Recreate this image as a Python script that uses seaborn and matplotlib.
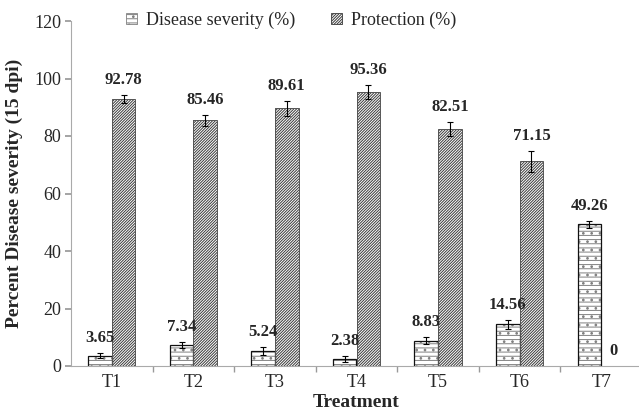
import numpy as np
import pandas as pd
import matplotlib
matplotlib.use("Agg")
import matplotlib.pyplot as plt
import seaborn as sns

treatments = ["T1", "T2", "T3", "T4", "T5", "T6", "T7"]
disease_severity = [3.65, 7.34, 5.24, 2.38, 8.83, 14.56, 49.26]
protection = [92.78, 85.46, 89.61, 95.36, 82.51, 71.15, 0]
disease_err = [1.0, 1.0, 1.5, 1.1, 1.3, 1.6, 1.1]
protection_err = [1.4, 2.0, 2.5, 2.4, 2.4, 3.6, 0]
series_names = ["Disease severity (%)", "Protection (%)"]

df = pd.DataFrame({
    "Treatment": treatments * 2,
    "value": disease_severity + protection,
    "err": disease_err + protection_err,
    "series": [series_names[0]] * 7 + [series_names[1]] * 7,
})

sns.set_theme(style="white")
plt.rcParams["font.family"] = ["Liberation Serif", "DejaVu Serif"]
plt.rcParams["hatch.linewidth"] = 0.7

fig = plt.figure(figsize=(6.39, 4.13), dpi=100)
ax = fig.add_axes([71 / 639, 47 / 413, 571 / 639, 345 / 413])

sns.barplot(data=df, x="Treatment", y="value", hue="series", width=0.58,
            palette=["white", "white"], errorbar=None, ax=ax, legend=True)

# hatch colour follows edge colour, so the outline is drawn on top separately
styles = {
    series_names[0]: dict(hatch="----..", hatchcol="#808080", edge="#111111", lw=0.9),
    series_names[1]: dict(hatch="////////////", hatchcol="#3a3a3a", edge="#555555", lw=0.7),
}
for cont, name in zip(ax.containers, series_names):
    st = styles[name]
    sub = df[df["series"] == name]
    for bar, val, err in zip(cont.patches, sub["value"], sub["err"]):
        bar.set_hatch(st["hatch"])
        bar.set_edgecolor(st["hatchcol"])
        bar.set_linewidth(0)
        ax.add_patch(plt.Rectangle(bar.get_xy(), bar.get_width(), bar.get_height(),
                                   fill=False, edgecolor=st["edge"], lw=st["lw"],
                                   zorder=bar.get_zorder() + 0.1))
        xc = bar.get_x() + bar.get_width() / 2
        if err > 0:
            ax.errorbar(xc, val, yerr=err, color="black", lw=0.8, capsize=2.5,
                        capthick=0.8, zorder=4)
        ax.annotate(f"{val:g}" if val == 0 else f"{val:.2f}", (xc, val + err),
                    xytext=(0, 5), textcoords="offset points", ha="center",
                    va="bottom", fontsize=12, fontweight="bold")

ax.set_ylim(0, 120)
ax.set_xlim(-0.5, 6.5)
ax.set_yticks(range(0, 121, 20))
ax.set_xticks(np.arange(7))
ax.set_xticklabels(treatments)
ax.tick_params(axis="y", labelsize=13, length=4, left=True, color="#999999", pad=3)
ax.tick_params(axis="x", labelsize=13, length=0, pad=6)
ax.set_xticks(np.arange(0.5, 6.5, 1), minor=True)
ax.tick_params(axis="x", which="minor", bottom=True, length=4, color="#999999")

for s in ["top", "right"]:
    ax.spines[s].set_visible(False)
ax.spines["left"].set_color("#aaaaaa")
ax.spines["bottom"].set_color("#aaaaaa")
ax.spines["left"].set_linewidth(0.8)
ax.spines["bottom"].set_linewidth(0.8)

ax.set_ylabel("Percent Disease severity (15 dpi)", fontsize=14, fontweight="bold",
              labelpad=8)
ax.set_xlabel("Treatment", fontsize=14, fontweight="bold", labelpad=2)

handles, labels = ax.get_legend_handles_labels()
for h, name in zip(handles, series_names):
    st = styles[name]
    h.set_hatch(st["hatch"])
    h.set_edgecolor(st["hatchcol"])
    h.set_linewidth(0.6)
ax.legend(handles, labels, loc="upper center", bbox_to_anchor=(0.385, 1.075),
          ncol=2, frameon=False, fontsize=13, handlelength=0.6, handleheight=0.6,
          columnspacing=2.0, handletextpad=0.5)

fig.savefig("out.png", dpi=100)
